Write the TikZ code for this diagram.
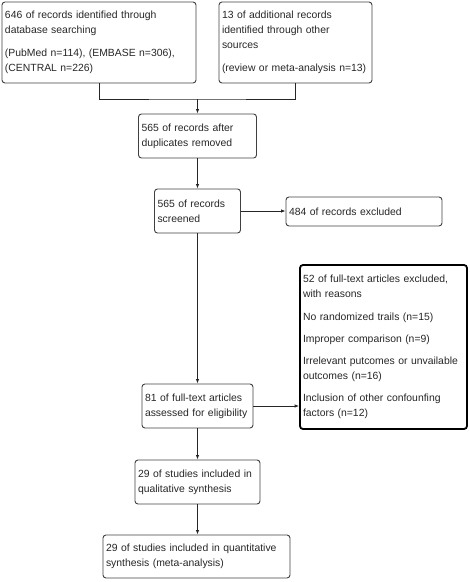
\documentclass[tikz,border=0pt]{standalone}
\usepackage{fontspec}
\setmainfont{Liberation Sans}
\usetikzlibrary{arrows.meta}
\newcommand\nohyph{\hyphenpenalty=10000\relax}
\begin{document}
\begin{tikzpicture}[x=1pt,y=-1pt,
  box/.style={draw=black!75, line width=0.9pt, rounded corners=3pt,
    inner xsep=3pt, inner ysep=0pt, align=left, anchor=center,
    font=\fontsize{10.4}{15}\selectfont\nohyph, text=black!85},
  boldbox/.style={draw=black, line width=1.8pt},
  conn/.style={line width=0.8pt, draw=black!85},
  arr/.style={conn, -{Latex[length=4.5pt,width=3.5pt]}}
  ]
\useasboundingbox (0,0) rectangle (470,582);

\node[box, minimum width=194pt, text width=188pt, minimum height=81pt] (b1) at (99,42.5)
  {646 of records identified through\\database searching\\[7.5pt](PubMed n=114), (EMBASE n=306),\\(CENTRAL n=226)};
\node[box, minimum width=153pt, text width=147pt, minimum height=81pt] (b2) at (295.5,42.5)
  {13 of additional records\\identified through other\\sources\\[7.5pt](review or meta-analysis n=13)};
\node[box, minimum width=118pt, text width=112pt, minimum height=44pt] (b3) at (197.5,136)
  {565 of records after\\duplicates removed};
\node[box, minimum width=86pt, text width=80pt, minimum height=44pt] (b4) at (197.5,211)
  {565 of records\\screened};
\node[box, minimum width=156pt, text width=150pt, minimum height=29pt] (b5) at (364,211.5)
  {484 of records excluded};
\node[box, minimum width=111pt, text width=105pt, minimum height=44pt] (b6) at (197.5,406)
  {81 of full-text articles\\assessed for eligibility};
\node[box, boldbox, minimum width=167pt, text width=161pt, minimum height=164pt] (b7) at (383.5,347)
  {52 of full-text articles excluded,\\with reasons\\[7.5pt]No randomized trails (n=15)\\[7pt]Improper comparison (n=9)\\[7pt]Irrelevant putcomes or unvailable\\outcomes (n=16)\\[7.5pt]Inclusion of other confounfing\\factors (n=12)};
\node[box, minimum width=125pt, text width=119pt, minimum height=44pt] (b8) at (197.5,482)
  {29 of studies included in\\qualitative synthesis};
\node[box, minimum width=187pt, text width=181pt, minimum height=43pt] (b9) at (196.5,556.5)
  {29 of studies included in quantitative\\synthesis (meta-analysis)};

\coordinate (j) at (197.5,99);
\draw[conn] (b1.south) |- (j) -| (b2.south);
\draw[arr] (j) -- (b3.north);
\draw[arr] (b3.south) -- (b4.north);
\draw[arr] (b4.east) -- (b4.east -| b5.west);
\draw[arr] (b4.south) -- (b6.north);
\draw[arr] (b6.east) -- (b6.east -| b7.west);
\draw[arr] (b6.south) -- (b8.north);
\draw[arr] (b8.south) -- (b8.south |- b9.north);
\end{tikzpicture}
\end{document}
